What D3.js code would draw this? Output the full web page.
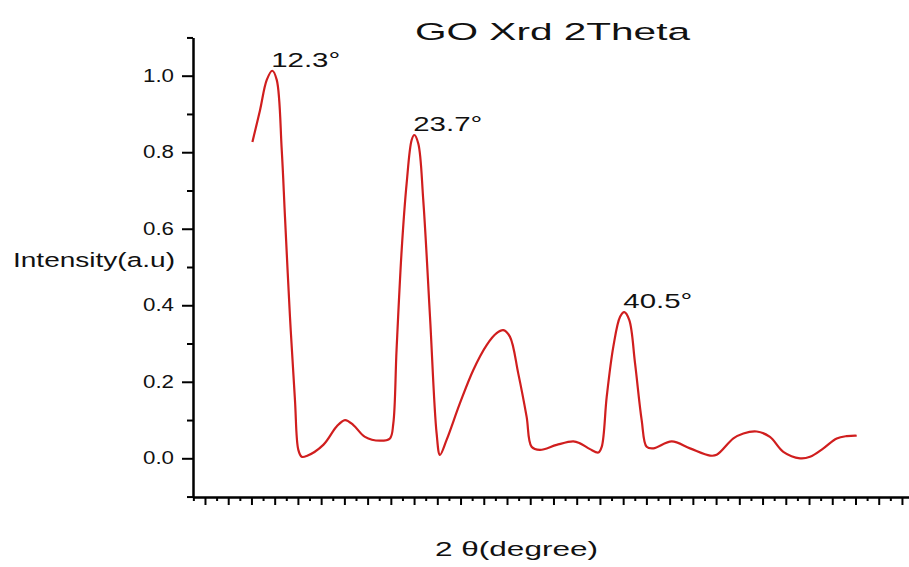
<!DOCTYPE html>
<html>
<head>
<meta charset="utf-8">
<script src="https://cdn.jsdelivr.net/npm/d3@7"></script>
<style>
  html, body { margin: 0; padding: 0; background: #fff; }
  svg { display: block; font-family: Arial, "Liberation Sans", sans-serif; }
</style>
</head>
<body>
<svg id="chart" width="909" height="567"></svg>
<script>
// ---- data (2θ in degrees, intensity in a.u.) ----
const twoTheta = [10.71, 11.32, 11.86, 12.30, 12.66, 13.06, 13.32, 13.72, 14.12, 14.39, 14.66, 15.06,
  16.39, 17.46, 18.13, 18.80, 19.73, 20.93, 21.73, 22.00, 22.26, 22.67, 23.07, 23.47, 23.68, 24.00,
  24.40, 24.94, 25.47, 25.74, 26.27, 27.34, 28.41, 29.48, 30.28, 30.81, 31.34, 32.01, 32.68, 33.08,
  33.75, 35.09, 36.42, 36.96, 37.76, 38.43, 38.70, 39.10, 39.63, 40.17, 40.51, 40.91, 41.37, 41.90,
  42.30, 42.84, 44.31, 45.77, 47.38, 47.91, 49.25, 50.05, 51.12, 52.18, 53.25, 54.59, 55.39, 56.46,
  57.53, 58.33, 59.13];
const intensity = [0.827, 0.910, 0.989, 1.013, 0.989, 0.806, 0.631, 0.370, 0.152, 0.022, 0.004, 0.006,
  0.035, 0.083, 0.100, 0.087, 0.056, 0.046, 0.052, 0.091, 0.283, 0.544, 0.719, 0.832, 0.845, 0.823,
  0.675, 0.370, 0.065, 0.009, 0.048, 0.144, 0.231, 0.296, 0.327, 0.335, 0.318, 0.222, 0.109, 0.030,
  0.022, 0.035, 0.044, 0.039, 0.024, 0.015, 0.030, 0.161, 0.292, 0.370, 0.382, 0.361, 0.248, 0.100,
  0.030, 0.026, 0.044, 0.026, 0.007, 0.009, 0.052, 0.065, 0.070, 0.056, 0.017, 0.000, 0.004, 0.026,
  0.052, 0.058, 0.059];

const peakLabels = ["12.3°", "23.7°", "40.5°"];
const peakX = [12.3, 23.68, 40.51];
const peakY = [1.013, 0.845, 0.382];

const yMajorTicks = [0.0, 0.2, 0.4, 0.6, 0.8, 1.0];
const yMinorTicks = [-0.1, 0.1, 0.3, 0.5, 0.7, 0.9, 1.1];
const xMajorStep = 1.8615;
const xMajorTicks = d3.range(0, 31).map(k => 6.91 + k * xMajorStep);
const xMinorTicks = d3.range(0, 31).map(k => 6.91 - xMajorStep / 2 + k * xMajorStep);

const titleText = "GO Xrd 2Theta";
const xTitle = "2 θ(degree)";
const yTitle = "Intensity(a.u)";

// ---- drawing ----
const svg = d3.select("#chart");

const x = d3.scaleLinear().domain([5.95, 63.32]).range([193, 909]);
const y = d3.scaleLinear().domain([-0.1, 1.1]).range([496.56, 37.44]);

function styleAxis(g) {
  g.select(".domain").attr("stroke", "#000").attr("stroke-width", 2);
  g.selectAll(".tick line").attr("stroke", "#000").attr("stroke-width", 2);
}

// y axis minor
svg.append("g").attr("transform", "translate(193,0)")
  .call(d3.axisLeft(y).tickValues(yMinorTicks).tickSize(6).tickSizeOuter(0).tickFormat(""))
  .call(styleAxis);
// y axis major
const yAx = svg.append("g").attr("transform", "translate(193,0)")
  .call(d3.axisLeft(y).tickValues(yMajorTicks).tickSize(11).tickSizeOuter(0).tickPadding(8).tickFormat(d3.format(".1f")))
  .call(styleAxis);
yAx.selectAll(".tick text")
  .attr("fill", "#111").attr("font-size", 17.5)
  .attr("font-family", "Arial, 'Liberation Sans', sans-serif")
  .attr("textLength", 31).attr("lengthAdjust", "spacingAndGlyphs");

// x axis minor
svg.append("g").attr("transform", "translate(0,497)")
  .call(d3.axisBottom(x).tickValues(xMinorTicks).tickSize(4).tickSizeOuter(0).tickFormat(""))
  .call(styleAxis);
// x axis major
svg.append("g").attr("transform", "translate(0,497)")
  .call(d3.axisBottom(x).tickValues(xMajorTicks).tickSize(8).tickSizeOuter(0).tickFormat(""))
  .call(styleAxis);

// curve
const pts = twoTheta.map((t, i) => [t, intensity[i]]);
const line = d3.line().x(d => x(d[0])).y(d => y(d[1])).curve(d3.curveCatmullRom.alpha(0.5));
svg.append("path").datum(pts)
  .attr("d", line)
  .attr("fill", "none")
  .attr("stroke", "#d01e1e")
  .attr("stroke-width", 2.2)
  .attr("stroke-linejoin", "round");

// peak annotations
svg.selectAll("text.peak").data(peakLabels).enter().append("text")
  .attr("class", "peak")
  .attr("x", (d, i) => x(peakX[i]) - 1)
  .attr("y", (d, i) => y(peakY[i]) - 4)
  .attr("font-size", 21)
  .attr("fill", "#111")
  .attr("textLength", 69).attr("lengthAdjust", "spacingAndGlyphs")
  .text(d => d);

// title
svg.append("text").attr("x", 415).attr("y", 39.5)
  .attr("font-size", 24.5).attr("fill", "#111")
  .attr("textLength", 275).attr("lengthAdjust", "spacingAndGlyphs")
  .text(titleText);

// y title
svg.append("text").attr("x", 13).attr("y", 266.5)
  .attr("font-size", 20.5).attr("fill", "#111")
  .attr("textLength", 162).attr("lengthAdjust", "spacingAndGlyphs")
  .text(yTitle);

// x title
svg.append("text").attr("x", 435).attr("y", 556)
  .attr("font-size", 20.5).attr("fill", "#111")
  .attr("textLength", 163).attr("lengthAdjust", "spacingAndGlyphs")
  .text(xTitle);
</script>
</body>
</html>
